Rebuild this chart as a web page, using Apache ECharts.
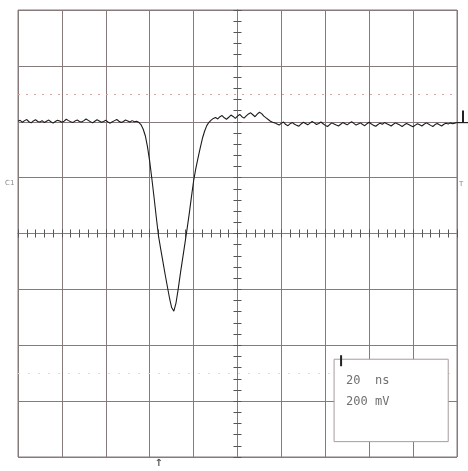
<!DOCTYPE html>
<html>
<head>
<meta charset="utf-8">
<script src="https://cdn.jsdelivr.net/npm/echarts@6/dist/echarts.min.js"></script>
<style>
html,body{margin:0;padding:0;background:#fff;}
#c{width:468px;height:471px;}
</style>
</head>
<body>
<div id="c"></div>
<script>
// Time axis (ns, relative to screen centre) and voltage axis (mV)
const timeStartNs = -100;
const sampleStepNs = 1;
const timeMin = -100, timeMax = 100, timeDiv = 20;   // 20 ns / div
const voltMin = -800, voltMax = 800, voltDiv = 200;  // 200 mV / div
const cursorLevels = [500, -500];
const timebaseLabel = "20  ns";
const voltsLabel = "200 mV";

// Channel 1 trace, mV, one sample per ns
const baselineBefore = [402,405,398,404,408,400,396,403,407,401,
  399,404,397,402,406,400,395,401,405,403,
  398,402,409,404,400,397,403,406,401,399,
  404,410,405,400,396,402,407,403,398,401,
  405,399,395,400,404,408,402,397,401,406,
  403,399,404,400];
const pulse = [402,398,390,374,350,310,258,195,128,58,
  -8,-55,-100,-145,-188,-230,-265,-278,-248,-198,
  -142,-90,-38,15,70,130,188,232,270,306,
  340,366,386,398,406,412];
const recovery = [415,410,418,422,414,409,416,424,419,412,
  420,426,418,413,421,428,432,425,418,427,
  434,429,420,414,408,402,398];
const baselineAfter = [396,392,388,395,399,390,386,393,397,391,
  387,384,392,398,394,389,395,401,396,390,
  394,399,393,387,383,390,396,392,388,385,
  391,397,393,389,395,400,394,388,392,396,
  390,386,393,398,392,387,384,390,395,391,
  397,393,389,385,391,396,392,388,383,389,
  394,390,386,382,388,393,389,385,391,396,
  392,387,383,390,394,389,385,391,395,392,
  396,393,395,397];

const trace = baselineBefore.concat(pulse, recovery, baselineAfter);
const traceData = trace.map((v, i) => [timeStartNs + i * sampleStepNs, v]);

const gridColor = '#867a7b';
const chart = echarts.init(document.getElementById('c'), null, {renderer: 'canvas'});

function centreXAxis(pos) {
  return {
    type: 'value', position: pos, min: timeMin, max: timeMax, interval: timeDiv,
    axisLine: {show: true, onZero: true, lineStyle: {color: gridColor, width: 1}},
    axisTick: {show: true, inside: true, length: 4, lineStyle: {color: '#555'}},
    minorTick: {show: true, splitNumber: 5, length: 4, lineStyle: {color: '#555'}},
    axisLabel: {show: false},
    splitLine: {show: pos === 'bottom', lineStyle: {color: gridColor, width: 1}},
    minorSplitLine: {show: false}
  };
}
function centreYAxis(pos) {
  return {
    type: 'value', position: pos, min: voltMin, max: voltMax, interval: voltDiv,
    axisLine: {show: true, onZero: true, lineStyle: {color: gridColor, width: 1}},
    axisTick: {show: true, inside: true, length: 4, lineStyle: {color: '#555'}},
    minorTick: {show: true, splitNumber: 5, length: 4, lineStyle: {color: '#555'}},
    axisLabel: {show: false},
    splitLine: {show: pos === 'left', lineStyle: {color: gridColor, width: 1}}
  };
}

chart.setOption({
  animation: false,
  backgroundColor: '#ffffff',
  grid: {left: 18, right: 11, top: 10, bottom: 14, show: true, borderColor: gridColor, borderWidth: 1},
  xAxis: [centreXAxis('bottom'), centreXAxis('top')],
  yAxis: [centreYAxis('left'), centreYAxis('right')],
  series: [{
    type: 'line', xAxisIndex: 0, yAxisIndex: 0,
    data: traceData, showSymbol: false, smooth: false,
    lineStyle: {color: '#1c1c1c', width: 1.1},
    markLine: {
      silent: true, symbol: 'none', label: {show: false},
      data: [
        {yAxis: cursorLevels[0], lineStyle: {color: '#d9a3a3', type: [2, 6], width: 1.2}},
        {yAxis: cursorLevels[1], lineStyle: {color: '#e2d6d6', type: [2, 8], width: 1}}
      ]
    }
  }]
});

// Annotations positioned from the axes
const p = (t, v) => chart.convertToPixel({xAxisIndex: 0, yAxisIndex: 0}, [t, v]);
const lastT = timeStartNs + (trace.length - 1) * sampleStepNs;
const endPt = p(lastT, trace[trace.length - 1]);
const trigPt = p(-36, voltMin);
const boxTL = p(44, -450);
const boxBR = p(96, -745);
chart.setOption({
  graphic: [
    {type: 'rect', shape: {x: boxTL[0], y: boxTL[1], width: boxBR[0] - boxTL[0], height: boxBR[1] - boxTL[1]},
     style: {fill: '#ffffff', stroke: '#a89c9c', lineWidth: 1}, z: 100},
    {type: 'rect', shape: {x: boxTL[0] + 6, y: boxTL[1] - 4, width: 2, height: 11},
     style: {fill: '#222'}, z: 101},
    {type: 'text', x: boxTL[0] + 12, y: boxTL[1] + 16,
     style: {text: timebaseLabel, fill: '#707070', font: '12px "DejaVu Sans Mono"'}, z: 101},
    {type: 'text', x: boxTL[0] + 12, y: boxTL[1] + 37,
     style: {text: voltsLabel, fill: '#707070', font: '12px "DejaVu Sans Mono"'}, z: 101},
    {type: 'line', shape: {x1: endPt[0], y1: endPt[1], x2: 468, y2: endPt[1]},
     style: {stroke: '#222', lineWidth: 1.2}, z: 101},
    {type: 'rect', shape: {x: 462, y: endPt[1] - 12, width: 2, height: 12},
     style: {fill: '#222'}, z: 101},
    {type: 'text', x: 5, y: 180, style: {text: 'C1', fill: '#8a8a8a', font: '7px "DejaVu Sans"'}, z: 101},
    {type: 'text', x: 459, y: 181, style: {text: 'T', fill: '#8a8a8a', font: '7px "DejaVu Sans"'}, z: 101},
    {type: 'text', x: trigPt[0] - 4, y: trigPt[1] + 1, style: {text: '↑', fill: '#555', font: 'bold 10px "DejaVu Sans"'}, z: 101}
  ]
});
</script>
</body>
</html>
